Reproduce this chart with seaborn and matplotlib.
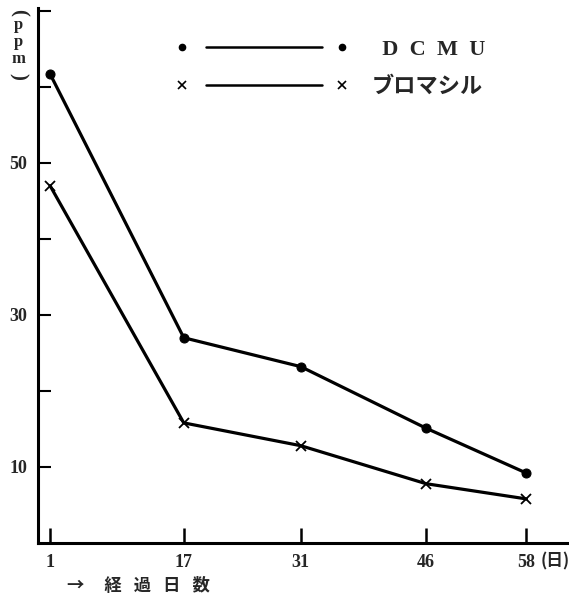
import pandas as pd
import matplotlib
matplotlib.use('Agg')
import matplotlib.pyplot as plt
import seaborn as sns
from matplotlib.lines import Line2D
from matplotlib.legend_handler import HandlerBase

# データ
days = [1, 17, 31, 46, 58]
dcmu_ppm = [61.7, 27.0, 23.2, 15.1, 9.2]
bromacil_ppm = [47.0, 15.8, 12.8, 7.8, 5.8]
series_names = ['  D  C  M  U', 'ブロマシル']
y_ticks = [10, 20, 30, 40, 50, 60, 70]
y_ticklabels = ['10', '', '30', '', '50', '', '']

sns.set_theme(style='white')
plt.rcParams['font.family'] = ['Liberation Serif', 'Noto Sans CJK JP', 'DejaVu Sans']
plt.rcParams['font.weight'] = 'bold'


class GapLineHandler(HandlerBase):
    """両端のマーカーと線の間に隙間を空けた凡例"""
    def create_artists(self, legend, orig, xd, yd, w, h, fs, trans):
        y = h / 2 - yd
        line = Line2D([-xd + 0.15 * w, -xd + 0.87 * w], [y, y], color='black',
                      linewidth=1.8, transform=trans)
        marks = Line2D([-xd, -xd + w], [y, y], linestyle='none',
                       marker=orig.get_marker(), markersize=orig.get_markersize(),
                       markeredgewidth=orig.get_markeredgewidth(),
                       color='black', transform=trans)
        return [line, marks]


df = pd.DataFrame({
    'day': days * 2,
    'ppm': dcmu_ppm + bromacil_ppm,
    'series': [series_names[0]] * len(days) + [series_names[1]] * len(days),
})

fig = plt.figure(figsize=(5.69, 6.0), dpi=100)
ax = fig.add_axes([0.067, 0.095, 0.93, 0.892])

sns.lineplot(data=df[df['series'] == series_names[0]], x='day', y='ppm', ax=ax,
             color='black', linewidth=2.3, marker='o', markersize=6.5,
             markeredgecolor='black', legend=False)
sns.lineplot(data=df[df['series'] == series_names[1]], x='day', y='ppm', ax=ax,
             color='black', linewidth=2.3, marker='x', markersize=7,
             markeredgecolor='black', markeredgewidth=1.3, legend=False)

ax.set_xlim(-0.43, 62.9)
ax.set_ylim(0, 70.4)
ax.set_xticks(days)
ax.set_xticklabels([str(d) for d in days], fontsize=13, fontweight='bold')
ax.set_yticks(y_ticks)
ax.set_yticklabels(y_ticklabels, fontsize=13, fontweight='bold')
ax.tick_params(axis='x', bottom=True, direction='in', length=11, width=1.8,
               color='black', pad=8)
ax.tick_params(axis='y', left=True, direction='in', length=9.5, width=1.5,
               color='black', pad=8)
ax.set_xlabel('')
ax.set_ylabel('')

for side in ['top', 'right']:
    ax.spines[side].set_visible(False)
for side in ['left', 'bottom']:
    ax.spines[side].set_color('black')
    ax.spines[side].set_linewidth(2.2)

# 凡例
handles = [
    Line2D([], [], color='black', marker='o', markersize=4.5),
    Line2D([], [], color='black', marker='x', markersize=5.5, markeredgewidth=1.2),
]
ax.legend(handles, series_names, loc='upper left', bbox_to_anchor=(0.235, 0.978),
          handler_map={Line2D: GapLineHandler()}, handlelength=7.2,
          handletextpad=1.3, labelspacing=0.75, frameon=False,
          prop={'size': 16, 'weight': 'bold'})

# 単位・軸ラベル（縦書き）
fig.text(0.032, 0.98, '(', ha='center', va='center', fontsize=15,
         rotation=-90, family=['Liberation Serif'])
fig.text(0.032, 0.93, 'p\np\nm', ha='center', va='center', fontsize=12,
         fontweight='bold', linespacing=1.05, family=['Liberation Serif'])
fig.text(0.032, 0.872, ')', ha='center', va='center', fontsize=15,
         rotation=-90, family=['Liberation Serif'])
fig.text(0.951, 0.0645, '(日)', ha='left', va='center', fontsize=12,
         fontweight='bold', family=['Noto Sans CJK JP'])
fig.text(0.118, 0.023, '→     経   過   日   数', ha='left', va='center',
         fontsize=12.5, fontweight='bold', family=['Noto Sans CJK JP', 'DejaVu Sans'])

plt.savefig('out.png', dpi=100)
plt.close()
